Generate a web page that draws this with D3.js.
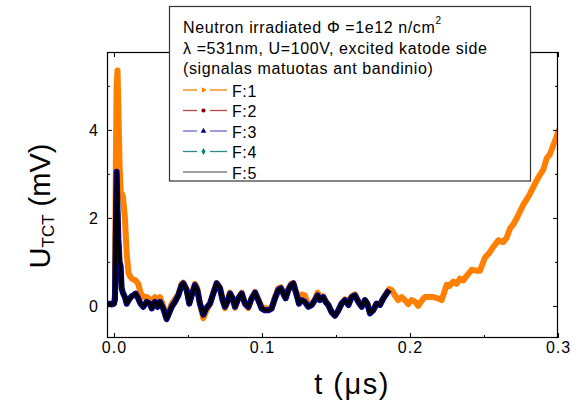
<!DOCTYPE html>
<html>
<head>
<meta charset="utf-8">
<script src="https://cdn.jsdelivr.net/npm/d3@7"></script>
<style>
  html, body { margin: 0; padding: 0; background: #fff; }
  svg { display: block; font-family: "Liberation Sans", Arial, sans-serif; }
</style>
</head>
<body>
<svg id="chart" width="578" height="400"></svg>
<script>
// ---- Data (time in µs, signal in mV) ----
const tMain = [-0.0047, -0.003, -0.0015, 0, 0.0007, 0.0012, 0.0018, 0.0024, 0.003, 0.0038, 0.0045, 0.0052, 0.006, 0.0074, 0.0086, 0.0098, 0.0108, 0.012, 0.0131, 0.0146, 0.0164, 0.018, 0.0198, 0.0221, 0.0243, 0.0255, 0.0277, 0.0295, 0.0311, 0.0333, 0.0356, 0.0372, 0.039, 0.0412, 0.0435, 0.0457, 0.0468, 0.0491, 0.0509, 0.0525, 0.0547, 0.0563, 0.0581, 0.0604, 0.0622, 0.0649, 0.0671, 0.0694, 0.0716, 0.0734, 0.075, 0.0766, 0.0784, 0.0802, 0.0818, 0.084, 0.0863, 0.0885, 0.0908, 0.093, 0.0953, 0.0975, 0.0998, 0.102, 0.1043, 0.1065, 0.1088, 0.111, 0.1128, 0.1144, 0.116, 0.1178, 0.1196, 0.1212, 0.1235, 0.125, 0.1268, 0.129, 0.1313, 0.1336, 0.1358, 0.1376, 0.1392, 0.1414, 0.143, 0.1448, 0.147, 0.1493, 0.1516, 0.1538, 0.1561, 0.1584, 0.1606, 0.1628, 0.1651, 0.1674, 0.1696, 0.1712, 0.173, 0.1752, 0.1774, 0.1797, 0.182, 0.1842, 0.186];

const f1Main = [0.05, 0.05, 0.05, 0.05, 0.3, 3.0, 5.0, 5.35, 4.5, 3.2, 2.6, 2.55, 2.5, 2.0, 1.2, 0.75, 0.68, 0.62, 0.6, 0.58, 0.5, 0.3, 0.2, 0.2, 0.15, 0.05, 0.2, 0.1, 0.2, 0.0, -0.25, -0.12, 0.05, 0.15, 0.26, 0.5, 0.53, 0.38, 0.08, 0.26, 0.5, 0.4, 0.05, -0.28, -0.12, 0.05, 0.3, 0.52, 0.42, 0.15, -0.05, 0.09, 0.3, 0.17, -0.04, 0.17, 0.3, 0.05, -0.05, 0.17, 0.32, 0.15, -0.03, -0.04, -0.08, -0.04, 0.2, 0.4, 0.42, 0.3, 0.2, 0.38, 0.5, 0.52, 0.26, 0.12, 0.26, 0.24, 0.0, 0.03, 0.15, 0.3, 0.2, 0.22, 0.12, 0.03, -0.14, -0.22, -0.1, 0.05, 0.15, 0.1, 0.22, 0.26, 0.12, 0.0, 0.13, 0.05, -0.15, -0.08, 0.05, 0.04, 0.18, 0.3, 0.38];

const tTail = [0.1876, 0.1898, 0.1921, 0.1943, 0.1966, 0.1988, 0.2011, 0.2033, 0.2056, 0.208, 0.2101, 0.213, 0.2158, 0.219, 0.2214, 0.2248, 0.2265, 0.2293, 0.2315, 0.2338, 0.236, 0.2383, 0.2417, 0.2445, 0.2473, 0.2507, 0.2535, 0.2563, 0.2597, 0.263, 0.2653, 0.2676, 0.2698, 0.2721, 0.2744, 0.2766, 0.2788, 0.2811, 0.2833, 0.2856, 0.2878, 0.2901, 0.2923, 0.2946, 0.2968, 0.2991, 0.3, 0.302];
const f1Tail = [0.36, 0.24, 0.13, 0.2, 0.13, 0.04, 0.13, 0.1, 0.0, 0.12, 0.2, 0.2, 0.2, 0.17, 0.13, 0.48, 0.45, 0.55, 0.5, 0.62, 0.58, 0.68, 0.82, 0.8, 0.8, 1.1, 1.2, 1.34, 1.49, 1.45, 1.55, 1.76, 1.85, 1.99, 2.15, 2.3, 2.42, 2.55, 2.7, 2.85, 2.98, 3.1, 3.35, 3.45, 3.65, 3.85, 3.95, 4.1];

// F:2 – F:5 are indistinguishable in the picture; they share one trace
const fLow = [0.03, 0.05, 0.03, 0.05, 0.15, 1.6, 3.05, 2.2, 1.5, 1.0, 0.9, 0.4, 0.3, 0.2, 0.05, 0.12, 0.17, 0.22, 0.24, 0.28, 0.17, 0.05, -0.02, 0.09, 0.05, -0.06, 0.09, -0.02, 0.09, -0.06, -0.3, -0.17, -0.02, 0.09, 0.24, 0.47, 0.51, 0.36, 0.05, 0.24, 0.47, 0.36, 0.05, -0.2, -0.06, 0.05, 0.28, 0.51, 0.4, 0.13, -0.02, 0.09, 0.28, 0.17, -0.02, 0.17, 0.28, 0.05, -0.02, 0.17, 0.3, 0.13, -0.06, -0.1, -0.1, -0.06, 0.17, 0.36, 0.4, 0.28, 0.17, 0.36, 0.47, 0.51, 0.24, 0.05, 0.13, 0.09, -0.02, 0.02, 0.13, 0.24, 0.13, 0.2, 0.09, 0.02, -0.14, -0.22, -0.1, 0.05, 0.13, 0.02, 0.2, 0.24, 0.09, -0.02, 0.13, 0.05, -0.17, -0.1, 0.05, 0.02, 0.17, 0.28, 0.36];

const seriesNames = ["F:1", "F:2", "F:3", "F:4", "F:5"];
const seriesColors = ["#ff8000", "#800000", "#000080", "#008080", "#000000"];
const legendLineColors = ["#ff8000", "#b84848", "#6a6ad0", "#2a8a8a", "#808080"];
const legendMarkers = [d3.symbolTriangle, d3.symbolCircle, d3.symbolTriangle, d3.symbolDiamond, null];
const legendMarkerRot = [90, 0, 0, 0, 0];

const xDomain = [-0.0047, 0.3];
const yDomain = [-0.73, 5.77];
const xMajor = [0.0, 0.1, 0.2, 0.3];
const xMinor = [0.05, 0.15, 0.25];
const yMajor = [0, 2, 4];
const yMinor = [1, 3, 5];

const legendLines = ["Neutron irradiated \u03A6 =1e12 n/cm", "\u03BB =531nm, U=100V, excited katode side", "(signalas matuotas ant bandinio)"];

// ---- Layout ----
const svg = d3.select("#chart");
const L = 107, R = 558, T = 52, B = 338;
const x = d3.scaleLinear().domain(xDomain).range([L, R]);
const y = d3.scaleLinear().domain(yDomain).range([B, T]);

svg.append("defs").append("clipPath").attr("id", "clip")
  .append("rect").attr("x", L).attr("y", T).attr("width", R - L).attr("height", B - T);

const line = d3.line().x(d => x(d[0])).y(d => y(d[1]));
const g = svg.append("g").attr("clip-path", "url(#clip)");

const f1Data = d3.zip(tMain.concat(tTail), f1Main.concat(f1Tail));
const lowData = d3.zip(tMain, fLow);

// F:1 orange (dense markers -> thick band)
g.append("path").datum(f1Data).attr("d", line)
  .attr("fill", "none").attr("stroke", seriesColors[0]).attr("stroke-width", 6)
  .attr("stroke-linejoin", "round");
// F:2, F:4 underneath, F:3 navy markers band, F:5 black line on top
[[1, 5], [3, 5], [2, 6]].forEach(([i, w]) => {
  g.append("path").datum(lowData).attr("d", line)
    .attr("fill", "none").attr("stroke", seriesColors[i])
    .attr("stroke-width", w).attr("stroke-linejoin", "round");
});
g.append("path").datum(lowData).attr("d", line)
  .attr("fill", "none").attr("stroke", seriesColors[4]).attr("stroke-width", 3)
  .attr("stroke-linejoin", "round");

// ---- Axes ----
const tickFont = "16px";
function styleAxis(sel) {
  sel.select(".domain").remove();
  sel.selectAll("line").attr("stroke", "#000").attr("stroke-width", 1);
  sel.selectAll("text").attr("fill", "#000").style("font-size", tickFont)
    .style("font-family", "'Liberation Sans', Arial, sans-serif");
}
const fmtX = d => d3.format(".1f")(d);
svg.append("g").attr("transform", `translate(0,${B})`)
  .call(d3.axisBottom(x).tickValues(xMajor).tickFormat(fmtX).tickSize(-5).tickPadding(4)).call(styleAxis)
  .selectAll("text").attr("letter-spacing", "1px");
svg.append("g").attr("transform", `translate(0,${B})`)
  .call(d3.axisBottom(x).tickValues(xMinor).tickFormat("").tickSize(-3)).call(styleAxis);
svg.append("g").attr("transform", `translate(0,${T})`)
  .call(d3.axisTop(x).tickValues(xMajor).tickFormat("").tickSize(-5)).call(styleAxis);
svg.append("g").attr("transform", `translate(0,${T})`)
  .call(d3.axisTop(x).tickValues(xMinor).tickFormat("").tickSize(-3)).call(styleAxis);
svg.append("g").attr("transform", `translate(${L},0)`)
  .call(d3.axisLeft(y).tickValues(yMajor).tickFormat(d3.format("d")).tickSize(-5).tickPadding(9)).call(styleAxis);
svg.append("g").attr("transform", `translate(${L},0)`)
  .call(d3.axisLeft(y).tickValues(yMinor).tickFormat("").tickSize(-3)).call(styleAxis);
svg.append("g").attr("transform", `translate(${R},0)`)
  .call(d3.axisRight(y).tickValues(yMajor).tickFormat("").tickSize(-5)).call(styleAxis);
svg.append("g").attr("transform", `translate(${R},0)`)
  .call(d3.axisRight(y).tickValues(yMinor).tickFormat("").tickSize(-3)).call(styleAxis);

// frame
svg.append("rect").attr("x", L + 0.5).attr("y", T + 0.5).attr("width", R - L - 1).attr("height", B - T - 1)
  .attr("fill", "none").attr("stroke", "#000").attr("stroke-width", 1.2);

// ---- Axis titles ----
const xt = svg.append("text").attr("x", 352).attr("y", 394).attr("text-anchor", "middle")
  .style("font-size", "29px").attr("letter-spacing", "1.5px").attr("fill", "#000");
xt.append("tspan").text("t (");
xt.append("tspan").text("\u03BC");
xt.append("tspan").text("s)");

const yt = svg.append("text").attr("transform", "translate(50,206) rotate(-90)")
  .attr("text-anchor", "middle").style("font-size", "29px").attr("fill", "#000");
yt.append("tspan").text("U");
yt.append("tspan").text("TCT").style("font-size", "17px").attr("dy", 4);
yt.append("tspan").text(" (mV)").attr("dy", -4);

// ---- Legend ----
const lg = svg.append("g");
lg.append("rect").attr("x", 169.5).attr("y", 6.5).attr("width", 361).attr("height", 174.5)
  .attr("fill", "#fff").attr("stroke", "#333").attr("stroke-width", 1.2);
const legendFont = "16px";
const baselines = [33, 54, 74];
legendLines.forEach((s, i) => {
  const t = lg.append("text").attr("x", 183).attr("y", baselines[i]).style("font-size", legendFont)
    .attr("letter-spacing", "0.6px").attr("fill", "#000").text(s);
  if (i === 0) t.append("tspan").text("2").style("font-size", "10px").attr("dy", -9);
});
seriesNames.forEach((name, i) => {
  const cy = 90 + i * 20.5;
  const c = legendLineColors[i];
  if (legendMarkers[i]) {
    lg.append("line").attr("x1", 183).attr("x2", 197).attr("y1", cy).attr("y2", cy).attr("stroke", c).attr("stroke-width", 1.3);
    lg.append("line").attr("x1", 210).attr("x2", 227).attr("y1", cy).attr("y2", cy).attr("stroke", c).attr("stroke-width", 1.3);
    lg.append("path").attr("d", d3.symbol().type(legendMarkers[i]).size(14)())
      .attr("transform", `translate(203.5,${cy}) rotate(${legendMarkerRot[i]})`).attr("fill", seriesColors[i]);
  } else {
    lg.append("line").attr("x1", 183).attr("x2", 227).attr("y1", cy).attr("y2", cy).attr("stroke", c).attr("stroke-width", 1.6);
  }
  lg.append("text").attr("x", 232).attr("y", cy + 6.5).style("font-size", "16px").attr("letter-spacing", "0.6px")
    .attr("fill", "#000").text(name);
});
</script>
</body>
</html>
